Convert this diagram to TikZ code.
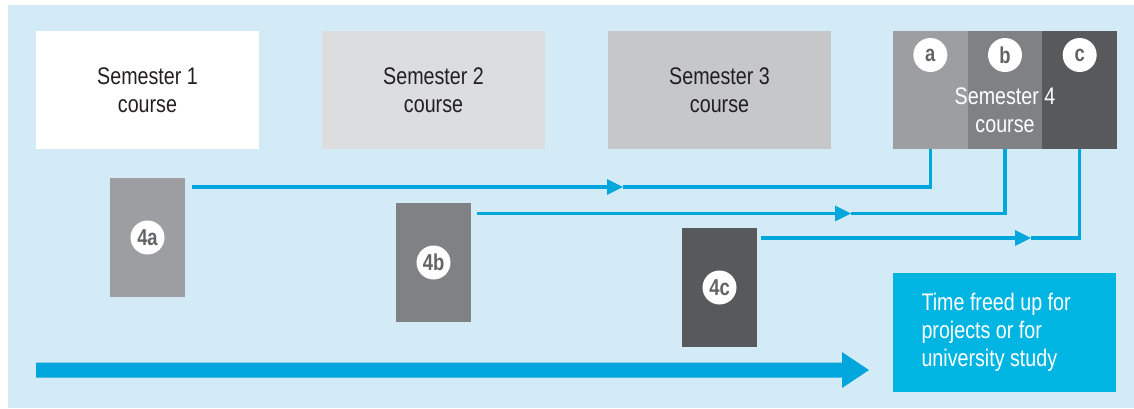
\documentclass[tikz,border=0pt]{standalone}
\usepackage{fontspec}
\setmainfont{Liberation Sans}[FakeStretch=0.82]
\newfontfamily\boldcond{Liberation Sans}[FakeStretch=0.8]
\usetikzlibrary{arrows.meta}
\definecolor{bgblue}{HTML}{D3EBF6}
\definecolor{semtwo}{HTML}{DCDDDF}
\definecolor{semthree}{HTML}{C6C7C9}
\definecolor{gra}{HTML}{9D9EA2}
\definecolor{grb}{HTML}{808185}
\definecolor{grc}{HTML}{58595B}
\definecolor{lettergray}{HTML}{636466}
\definecolor{flowblue}{HTML}{00A6DC}
\definecolor{timeblue}{HTML}{00B5E2}
\definecolor{darktext}{HTML}{231F20}
\tikzset{
  box/.style={inner sep=0pt, minimum width=223pt, minimum height=118pt},
  semtext/.style={align=center, text=darktext, font=\fontsize{24}{28}\selectfont},
  seg/.style={inner sep=0pt, minimum width=74.67pt, minimum height=118pt},
  smallbox/.style={inner sep=0pt, minimum width=75pt, minimum height=119pt},
  circ/.style={circle, fill=white, inner sep=0pt, minimum size=34pt, text=lettergray, font=\boldcond\bfseries\fontsize{23}{24}\selectfont},
  flow/.style={draw=flowblue, line width=3.2pt},
  tipped/.style={-{Triangle[length=16pt,width=15pt]}},
}
\begin{document}
\begin{tikzpicture}[x=1pt,y=-1pt]
\useasboundingbox (0,0) rectangle (1134,408);
\fill[bgblue] (8,5) rectangle (1134,408);
% semester boxes
\node[box, fill=white, semtext] (s1) at (147.5,90) {Semester 1\\course};
\node[box, fill=semtwo, semtext] (s2) at (433.5,90) {Semester 2\\course};
\node[box, fill=semthree, semtext] (s3) at (719.5,90) {Semester 3\\course};
\node[seg, fill=gra] (sa) at (930.33,90) {};
\node[seg, fill=grb] (sb) at (1005,90) {};
\node[seg, fill=grc] (sc) at (1079.67,90) {};
\node[semtext, text=white] (s4) at (1005,110) {Semester 4\\course};
\node[circ] (ca) at (930.33,55) {a};
\node[circ] (cb) at (1005,55) {b};
\node[circ] (cc) at (1079.67,55) {c};
% 4a 4b 4c boxes
\node[smallbox, fill=gra] (b4a) at (147.5,237.5) {};
\node[smallbox, fill=grb] (b4b) at (433.5,262.5) {};
\node[smallbox, fill=grc] (b4c) at (719.5,287.5) {};
\node[circ] (c4a) at (b4a) {4a};
\node[circ] (c4b) at (b4b) {4b};
\node[circ] (c4c) at (b4c) {4c};
% flow connectors
\coordinate (p1) at (192,187);
\coordinate (m1) at (623,187);
\coordinate (p2) at (477,213.5);
\coordinate (m2) at (851,213.5);
\coordinate (p3) at (761,238);
\coordinate (m3) at (1031,238);
\draw[flow, tipped] (p1) -- (m1);
\draw[flow] (m1) -| (sa.south);
\draw[flow, tipped] (p2) -- (m2);
\draw[flow] (m2) -| (sb.south);
\draw[flow, tipped] (p3) -- (m3);
\draw[flow] (m3) -| (sc.south);
% time box
\node[inner sep=0pt, minimum width=223pt, minimum height=119pt, fill=timeblue] (tb) at (1004.5,332.5) {};
\node[anchor=west, align=left, text=white, font=\fontsize{24}{28.2}\selectfont] (tt) at (918,332) {Time freed up for\\projects or for\\university study};
% big arrow
\coordinate (ba) at (36,370);
\coordinate (bt) at (869,370);
\fill[flowblue] (ba) ++(0,-7.5) -- ++(806,0) -- ++(0,-10.5) -- (bt) -- ++(-27,18) -- ++(0,-10.5) -- ++(-806,0) -- cycle;
\end{tikzpicture}
\end{document}
